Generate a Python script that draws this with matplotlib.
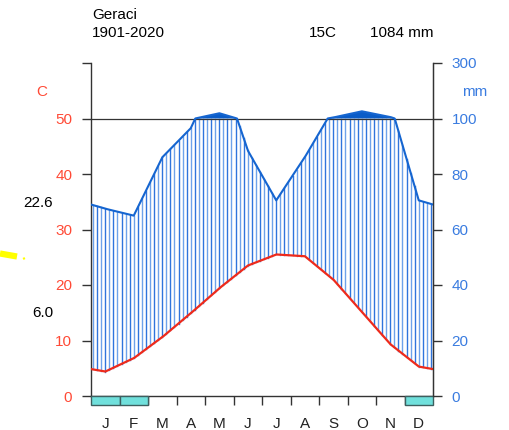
import numpy as np
import matplotlib
matplotlib.use("Agg")
import matplotlib.pyplot as plt
from matplotlib.patches import Rectangle
from matplotlib.lines import Line2D

plt.rcParams['font.family'] = ['Liberation Sans', 'DejaVu Sans']
plt.rcParams['font.size'] = 11

# Walter-Lieth climate diagram, Geraci 1901-2020
station = "Geraci"
period = "1901-2020"
months = ['J', 'F', 'M', 'A', 'M', 'J', 'J', 'A', 'S', 'O', 'N', 'D']
temp = [4.4, 6.8, 10.6, 14.9, 19.4, 23.5, 25.5, 25.2, 21.0, 15.2, 9.35, 5.3]
prec = [67.5, 65, 86, 96.5, 119, 88.5, 70.5, 86, 103.5, 126, 105.5, 70.5]
frost = [0, 1, 11]  # month index with frost boxes
tmax_warm = "22.6"
tmin_cold = "6.0"
t_ticks = [0, 10, 20, 30, 40, 50, 60]
t_labels = ['0', '10', '20', '30', '40', '50', '']
p_labels = ['0', '20', '40', '60', '80', '100', '300']

W, H = 509, 430
RED = '#ee2a1b'
RED_TXT = '#ff4a36'
BLUE = '#1565d0'
BLUE_TXT = '#3a7ce0'
DARK = '#333333'


def fx(x):
    return x / W


def fy(y):
    return 1 - y / H


def pscale(p):
    # mm -> display units (C); compressed above 100 mm
    p = np.asarray(p, dtype=float)
    return np.where(p <= 100, p / 2.0, 50 + (p - 100) / 20.0)


fig = plt.figure(figsize=(W / 100, H / 100), dpi=100)
ax = fig.add_axes([fx(91), fy(396), 342 / W, 333 / H])
ax.set_xlim(0, 12)
ax.set_ylim(0, 60)

# extend to the plot edges with Dec/Jan mean
xm = np.concatenate([[0], np.arange(12) + 0.5, [12]])
t_ext = np.concatenate([[(temp[0] + temp[-1]) / 2], temp, [(temp[0] + temp[-1]) / 2]])
p_ext = np.concatenate([[(prec[0] + prec[-1]) / 2], prec, [(prec[0] + prec[-1]) / 2]])

xf = np.linspace(0, 12, 2401)
tf = np.interp(xf, xm, t_ext)
pf = np.interp(xf, xm, p_ext)
pd = pscale(pf)

# humid period hatch
xs = np.arange(1 / 14, 12, 1 / 7)
ts = np.interp(xs, xm, t_ext)
ps = pscale(np.interp(xs, xm, p_ext))
for i, (x0, t0, p0) in enumerate(zip(xs, ts, ps)):
    if p0 > t0:
        col = '#2f74dc' if i % 2 else '#6ea2ea'
        ax.plot([x0, x0], [t0, min(p0, 50)], color=col, lw=1.0, zorder=2)

# > 100 mm part, solid
ax.fill_between(xf, 50, pd, where=pd > 50, color='#0a5cc8', lw=0, zorder=2)

ax.axhline(50, color=DARK, lw=0.9, zorder=3)
ax.plot(xf, pd, color=BLUE, lw=1.5, zorder=4)
ax.plot(xf, tf, color=RED, lw=1.6, zorder=5)

# frost boxes below the axis
for m in frost:
    ax.add_patch(Rectangle((m, -1.6), 1, 1.6, facecolor='#70e0dc',
                           edgecolor='#3d5f5f', lw=1.0, clip_on=False, zorder=6))

ax.spines['top'].set_visible(False)
for s in ['left', 'right', 'bottom']:
    ax.spines[s].set_color(DARK)
    ax.spines[s].set_linewidth(1.0)

ax.set_xticks(np.arange(1, 12))
ax.set_xticklabels([])
ax.tick_params(axis='x', direction='out', length=6.5, width=1.0, color=DARK)
for i, m in enumerate(months):
    ax.text(i + 0.5, -27.5 / 333, m, transform=ax.get_xaxis_transform(),
            ha='center', va='center', fontsize=11, color='#222222')

ax.set_yticks(t_ticks)
ax.set_yticklabels(t_labels)
ax.tick_params(axis='y', direction='out', length=6.5, width=1.0, color=DARK,
               labelcolor=RED_TXT, pad=7)

ax2 = ax.twinx()
ax2.set_ylim(0, 60)
ax2.set_yticks(t_ticks)
ax2.set_yticklabels(p_labels)
ax2.tick_params(axis='y', direction='out', length=6.5, width=1.0, color=DARK,
                labelcolor=BLUE_TXT, pad=7)
for s in ['top', 'left', 'bottom']:
    ax2.spines[s].set_visible(False)
ax2.spines['right'].set_color(DARK)

# texts
fig.text(fx(92), fy(15), station, ha='left', va='center', fontsize=11)
fig.text(fx(92), fy(33), period, ha='left', va='center', fontsize=11)
fig.text(fx(323), fy(33), "%dC" % round(np.mean(temp)), ha='center', va='center', fontsize=11)
fig.text(fx(433), fy(33), "%d mm" % round(sum(prec)), ha='right', va='center', fontsize=11)
fig.text(fx(41.5), fy(91.5), "C", ha='center', va='center', color=RED_TXT, fontsize=11)
fig.text(fx(475), fy(92), "mm", ha='center', va='center', color=BLUE_TXT, fontsize=11)
fig.text(fx(53), fy(203), tmax_warm, ha='right', va='center', fontsize=11)
fig.text(fx(53), fy(313), tmin_cold, ha='right', va='center', fontsize=11)

# stray yellow mark at the left margin
fig.add_artist(Line2D([fx(0), fx(17)], [fy(253.5), fy(256.5)], color='#ffff00',
                      lw=4.5, solid_capstyle='butt'))
fig.add_artist(Line2D([fx(23.5), fx(24.5)], [fy(257.5), fy(259.5)], color='#ffff00',
                      lw=1.5, solid_capstyle='butt'))

fig.savefig('out.png', dpi=100)
